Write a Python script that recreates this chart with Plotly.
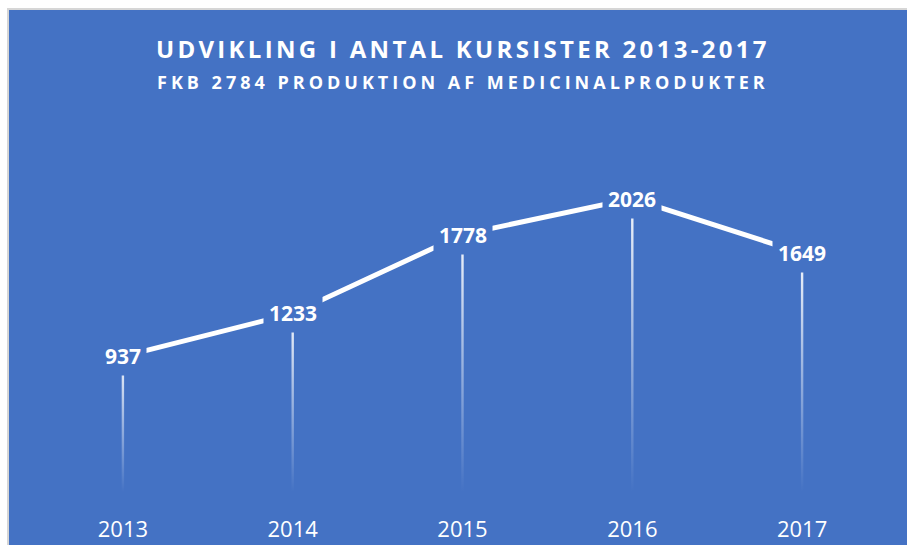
import plotly.graph_objects as go

years = ["2013", "2014", "2015", "2016", "2017"]
values = [937, 1233, 1778, 2026, 1649]
title_text = "UDVIKLING I ANTAL KURSISTER 2013-2017"
subtitle_text = "FKB 2784 PRODUKTION AF MEDICINALPRODUKTER"

BLUE = "#4472C4"
W, H = 907, 545
ML, MR, MT, MB = 38, 20, 130, 53
PW, PH = W - ML - MR, H - MT - MB


def px_x(p):
    return (p - ML) / PW


def px_y(p):
    return (H - MB - p) / PH


idx = list(range(len(years)))
fig = go.Figure()

# drop lines with vertical gradient
half = 1.2 / 170
for i, v in zip(idx, values):
    fig.add_trace(go.Scatter(
        x=[i - half, i + half, i + half, i - half, i - half],
        y=[0, 0, v, v, 0],
        mode="lines", line=dict(width=0, color="rgba(0,0,0,0)"),
        fill="toself",
        fillgradient=dict(type="vertical",
                          colorscale=[[0, "rgba(255,255,255,0.0)"],
                                      [0.6, "rgba(255,255,255,0.55)"],
                                      [1, "rgba(255,255,255,0.95)"]]),
        hoverinfo="skip", showlegend=False))

fig.add_trace(go.Scatter(
    x=idx, y=values, mode="lines",
    line=dict(color="white", width=5),
    hoverinfo="skip", showlegend=False))

for i, v in zip(idx, values):
    fig.add_annotation(x=i, y=v, text=str(v), showarrow=False,
                       bgcolor=BLUE, borderpad=5,
                       font=dict(family="Open Sans", size=21, color="white", weight="bold"))

fig.add_annotation(xref="paper", yref="paper", x=0.5, y=px_y(48), yanchor="middle",
                   text=title_text, showarrow=False, name="title",
                   font=dict(family="Open Sans", size=24, color="white", weight="bold"))
fig.add_annotation(xref="paper", yref="paper", x=0.5, y=px_y(82), yanchor="middle",
                   text=subtitle_text, showarrow=False, name="subtitle",
                   font=dict(family="Open Sans", size=18, color="white", weight="bold"))

# frame: white page, light gray edge, blue chart area
fig.add_shape(type="rect", xref="paper", yref="paper", layer="below",
              x0=px_x(7), x1=px_x(W + 20), y0=px_y(H + 20), y1=px_y(8),
              fillcolor="#D6D6D6", line=dict(width=0))
fig.add_shape(type="rect", xref="paper", yref="paper", layer="below",
              x0=px_x(9), x1=px_x(W + 20), y0=px_y(H + 20), y1=px_y(10),
              fillcolor=BLUE, line=dict(width=0))

fig.update_layout(
    width=W, height=H,
    margin=dict(l=ML, r=MR, t=MT, b=MB),
    paper_bgcolor="white", plot_bgcolor="rgba(0,0,0,0)",
    xaxis=dict(range=[-0.5, 4.5], tickvals=idx, ticktext=years,
               showgrid=False, zeroline=False, showline=False,
               ticks="", ticklabelstandoff=22, automargin=False,
               tickfont=dict(family="Open Sans", size=22, color="white"),
               fixedrange=True),
    yaxis=dict(range=[0, 2500], visible=False, showgrid=False, zeroline=False,
               automargin=False, fixedrange=True),
    showlegend=False,
    hovermode=False,
)

post = """
document.documentElement.style.overflow = 'hidden';
document.body.style.overflow = 'hidden';
document.body.style.margin = '0';
var gd = document.getElementById('{plot_id}');
function spaceOut() {
  var anns = gd.querySelectorAll('.annotation-text');
  anns.forEach(function(t) {
    var s = t.textContent;
    if (s.indexOf('UDVIKLING') === 0) { t.style.letterSpacing = '3.3px'; }
    else if (s.indexOf('FKB') === 0) { t.style.letterSpacing = '4px'; }
  });
}
spaceOut();
gd.on('plotly_afterplot', spaceOut);
"""

fig.write_html("out.html", post_script=post,
               config={"displayModeBar": False, "responsive": False})
